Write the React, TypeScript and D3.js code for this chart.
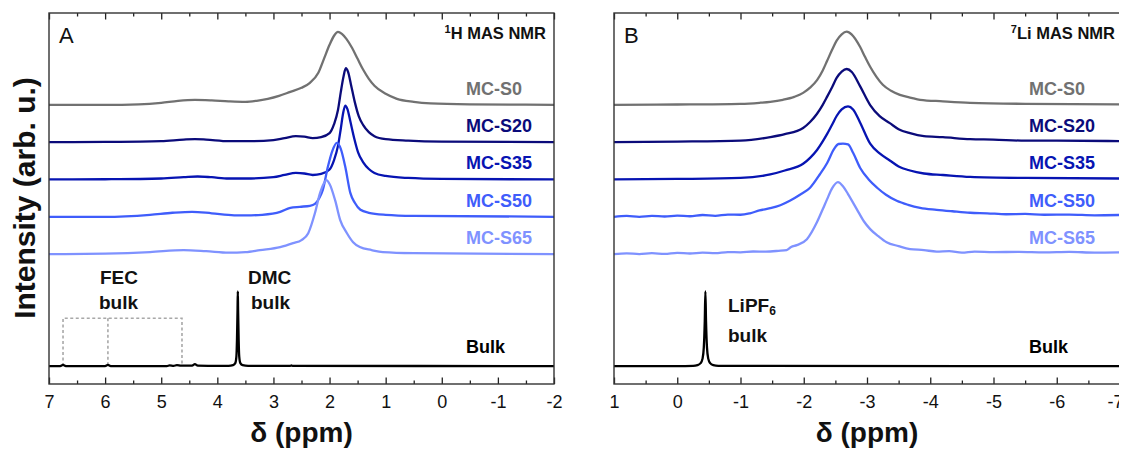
import React, { useEffect, useRef } from "react";
import * as d3 from "d3";

type Pt = [number, number];

// 1H MAS NMR spectra: [ppm, intensity]
const H_S0: Pt[] = [[7,0],[6,0],[5.4,0.7],[5.0,2.7],[4.7,5.4],[4.4,6.7],[4.1,6],[3.8,4.7],[3.5,4],[3.3,5.4],[3.1,8],[2.9,12],[2.7,17.4],[2.5,22.8],[2.35,29.5],[2.2,43],[2.1,61.6],[2.0,80.4],[1.92,92.5],[1.85,97.8],[1.78,95],[1.7,88.4],[1.6,76.4],[1.5,61.6],[1.4,46.9],[1.3,34.8],[1.2,25.5],[1.0,14.7],[0.8,8],[0.5,4],[0.2,2],[-0.5,0.7],[-2,0]];
const H_S20: Pt[] = [[7,0],[6,0.3],[5,1.3],[4.6,3.4],[4.4,4],[4.2,3.4],[3.8,1.3],[3.4,1.3],[3.0,2.7],[2.8,5.4],[2.6,8],[2.45,7.4],[2.3,5.4],[2.15,6.7],[2.0,12],[1.92,24],[1.85,43],[1.8,67],[1.75,88.4],[1.71,99],[1.67,94],[1.62,77.7],[1.55,53.6],[1.48,34.8],[1.4,22.8],[1.3,13.4],[1.2,8],[1.0,4],[0.6,2],[0,0.7],[-2,0]];
const H_S35: Pt[] = [[7,0],[6,0.3],[5,1.3],[4.6,3],[4.35,4],[4.1,3],[3.8,1.3],[3.4,1.3],[3.0,3],[2.8,6],[2.6,8.7],[2.45,8],[2.3,6],[2.15,7.4],[2.0,13.4],[1.92,26],[1.85,45],[1.8,68],[1.76,88],[1.72,99],[1.68,94],[1.63,78],[1.56,55],[1.49,36],[1.4,23],[1.3,14],[1.2,8.7],[1.0,4.7],[0.6,2],[0,0.7],[-2,0]];
const H_S50: Pt[] = [[7,0],[6,0],[5.2,2.7],[4.8,5.4],[4.45,6.7],[4.1,4.7],[3.7,2],[3.4,2],[3.2,2.7],[2.88,6.7],[2.7,12],[2.53,13.4],[2.35,14.7],[2.26,17.4],[2.18,25.5],[2.12,36],[2.03,67],[1.95,88.4],[1.87,99],[1.8,91],[1.72,67],[1.63,32],[1.55,18.8],[1.45,9.4],[1.3,5.4],[1.0,2.7],[0.5,1.3],[-2,0]];
const H_S65: Pt[] = [[7,0],[6,0.7],[5.2,2.7],[4.6,5.4],[4.2,4],[3.8,2],[3.5,2.7],[3.24,5.4],[2.88,9.4],[2.65,14.7],[2.5,18.8],[2.38,28],[2.26,55],[2.17,81.7],[2.1,95],[2.06,99],[2.0,94],[1.9,72],[1.81,45.6],[1.69,28],[1.58,16],[1.46,9.4],[1.25,5.4],[1.05,2.7],[0.5,1.3],[-2,0]];
const H_BULK: Pt[] = [[7,0],[6.8,0],[6.75,1.5],[6.7,0],[6.0,0],[5.95,1.5],[5.9,0],[4.9,0],[4.85,1],[4.78,0.3],[4.72,1.3],[4.65,0.5],[4.45,0.5],[4.4,2.5],[4.35,0.5],[3.8,0.3],[3.72,1.3],[3.68,4],[3.66,13],[3.65,35],[3.64,75],[3.635,100],[3.63,75],[3.62,35],[3.61,13],[3.59,4],[3.55,1.3],[3.45,0.3],[2.7,0.3],[2.68,1],[2.66,0.3],[-2,0]];

// 7Li MAS NMR spectra: [ppm, intensity]
const LI_S0: Pt[] = [[1,0],[0,0.4],[-1,1.3],[-1.3,2.7],[-1.47,4],[-1.67,6.7],[-1.85,10.7],[-1.99,16],[-2.1,23],[-2.21,33],[-2.3,46],[-2.37,59],[-2.45,74],[-2.52,86],[-2.6,94.5],[-2.68,98],[-2.76,94],[-2.89,77.7],[-2.97,64],[-3.05,51],[-3.15,37.5],[-3.25,26.8],[-3.38,18.8],[-3.52,13.4],[-3.7,9.4],[-3.84,6.7],[-4.2,4.7],[-4.63,2.7],[-5.5,1.3],[-7,0.7]];
const LI_S20: Pt[] = [[1,0],[0,0.7],[-1,2],[-1.47,6.7],[-1.7,10.7],[-1.99,19],[-2.1,27],[-2.21,38],[-2.3,50],[-2.37,61],[-2.45,74],[-2.52,86],[-2.6,94.5],[-2.68,98],[-2.76,94],[-2.89,75],[-3.05,49.6],[-3.2,34.8],[-3.36,25.5],[-3.5,17.4],[-3.68,12],[-3.9,8],[-4.2,6.7],[-4.63,4],[-5,3.4],[-5.5,2],[-6,2],[-7,1.3]];
const LI_S35: Pt[] = [[1,0],[0,0.7],[-1,2],[-1.47,6.7],[-1.7,12],[-1.99,21],[-2.1,29],[-2.21,39.5],[-2.3,51],[-2.37,61],[-2.45,73.7],[-2.52,85],[-2.6,93.8],[-2.7,97.8],[-2.78,93.8],[-2.89,76.4],[-3.05,48],[-3.2,34.8],[-3.36,25.5],[-3.5,17.4],[-3.68,12],[-3.9,8],[-4.2,6],[-4.63,3.4],[-5.5,2],[-7,1.3]];
const LI_S50: Pt[] = [[1,0],[0.8,1.1],[0.6,0],[0.4,1.3],[0.2,0.4],[0,1.6],[-0.2,0.7],[-0.4,2.4],[-0.6,1.3],[-0.8,3],[-1,2.7],[-1.15,4.7],[-1.3,8.5],[-1.47,11.5],[-1.63,15.5],[-1.78,21.4],[-1.94,29.5],[-2.1,38.9],[-2.25,56.3],[-2.37,72],[-2.48,91],[-2.55,97.5],[-2.62,98],[-2.7,97],[-2.78,85.8],[-2.89,65.7],[-3.03,49.6],[-3.16,38.9],[-3.3,29.5],[-3.47,21.4],[-3.65,16],[-3.84,12],[-4.1,9.4],[-4.35,7.4],[-4.63,5.4],[-4.9,4.7],[-5.2,3.4],[-5.5,3.8],[-5.8,2.7],[-6.2,3],[-6.6,2],[-7,2.4]];
const LI_S65: Pt[] = [[1,0],[0.8,1.1],[0.6,0],[0.4,1.2],[0.2,0.3],[0,1.7],[-0.2,0.8],[-0.4,2],[-0.6,1.3],[-0.8,2.7],[-1,2.4],[-1.2,3.5],[-1.4,3.4],[-1.6,4.4],[-1.73,5.4],[-1.8,9.4],[-1.89,12],[-2.05,20],[-2.21,43],[-2.3,60],[-2.37,73.7],[-2.45,88.4],[-2.54,96.5],[-2.62,91],[-2.7,80.4],[-2.84,60],[-2.95,44],[-3.05,33.5],[-3.18,24],[-3.31,16],[-3.5,10.7],[-3.68,6.7],[-3.9,5.4],[-4.1,3.4],[-4.3,4],[-4.5,2],[-4.7,3.4],[-5,2.7],[-5.4,3],[-5.8,2.4],[-6.2,3],[-6.6,2],[-7,2.4]];
const LI_BULK: Pt[] = [[1,0],[0,0],[-0.25,0.3],[-0.32,1.3],[-0.37,4],[-0.4,10],[-0.42,25],[-0.435,60],[-0.445,100],[-0.455,60],[-0.47,25],[-0.49,10],[-0.52,4],[-0.57,1.3],[-0.65,0.3],[-7,0]];

const SAMPLES = ["MC-S0", "MC-S20", "MC-S35", "MC-S50", "MC-S65", "Bulk"];
const OFFSETS = [350, 300, 250, 200, 150, 0];
const COLORS = ["#717171", "#0b0b7a", "#0714b2", "#3f5dfb", "#7f92ff", "#000000"];

const FEC_BOX_PPM = [6.75, 5.95, 4.63];
const FEC_BOX_TOP = 64;

const FONT = "Arial, 'Liberation Sans', sans-serif";

const App = () => {
  const svgRef = useRef<SVGSVGElement>(null);

  useEffect(() => {
    const svg = d3.select(svgRef.current);
    svg.selectAll("*").remove();

    const top = 13, bottom = 384;
    const y = d3.scaleLinear().domain([-24, 473]).range([bottom, top]);

    const panels = [
      { left: 49, right: 554, domain: [7, -2], spectra: [H_S0, H_S20, H_S35, H_S50, H_S65, H_BULK],
        letter: "A", nuc: "1", el: "H", labelPpm: -0.43, lastDx: 0 },
      { left: 614, right: 1120, domain: [1, -7], spectra: [LI_S0, LI_S20, LI_S35, LI_S50, LI_S65, LI_BULK],
        letter: "B", nuc: "7", el: "Li", labelPpm: -5.56, lastDx: -5 }
    ];

    panels.forEach((p, pi) => {
      const x = d3.scaleLinear().domain(p.domain).range([p.left, p.right]);
      const g = svg.append("g");

      const major = d3.range(p.domain[0], p.domain[1] - 0.01, -1);
      const minor = d3.range(p.domain[0] - 0.5, p.domain[1], -1);

      // ticks (inside), bottom + top
      g.append("g")
        .attr("transform", `translate(0,${bottom})`)
        .call(d3.axisBottom(x).tickValues(minor).tickSize(-3.5).tickFormat(() => ""))
        .call(a => a.select(".domain").remove());
      g.append("g")
        .attr("transform", `translate(0,${bottom})`)
        .call(d3.axisBottom(x).tickValues(major).tickSize(-6.5).tickPadding(11).tickFormat(d => String(d)))
        .call(a => a.select(".domain").remove())
        .call(a => a.selectAll(".tick:last-of-type text").attr("dx", p.lastDx));
      g.append("g")
        .attr("transform", `translate(0,${top})`)
        .call(d3.axisTop(x).tickValues(minor).tickSize(-3.5).tickFormat(() => ""))
        .call(a => a.select(".domain").remove());
      g.append("g")
        .attr("transform", `translate(0,${top})`)
        .call(d3.axisTop(x).tickValues(major).tickSize(-6.5).tickFormat(() => ""))
        .call(a => a.select(".domain").remove());

      g.selectAll(".tick line").attr("stroke", "#222").attr("stroke-width", 1.3);
      g.selectAll(".tick text")
        .attr("font-family", FONT)
        .attr("font-size", 18)
        .attr("fill", "#111");

      // FEC dashed box
      if (pi === 0) {
        const [a, b, c] = FEC_BOX_PPM;
        g.append("path")
          .attr("d", `M${x(a)},${y(0)}V${y(FEC_BOX_TOP)}H${x(c)}V${y(0)}M${x(b)},${y(FEC_BOX_TOP)}V${y(0)}`)
          .attr("fill", "none")
          .attr("stroke", "#a8a8a8")
          .attr("stroke-width", 1.6)
          .attr("stroke-dasharray", "3,2.5");
      }

      // spectra
      p.spectra.forEach((s, i) => {
        const line = d3.line<Pt>()
          .x(d => x(d[0]))
          .y(d => y(d[1] + OFFSETS[i]))
          .curve(d3.curveMonotoneX);
        g.append("path")
          .attr("d", line(s))
          .attr("fill", "none")
          .attr("stroke", COLORS[i])
          .attr("stroke-width", 2.3)
          .attr("stroke-linejoin", "round");
      });

      // frame
      g.append("rect")
        .attr("x", p.left)
        .attr("y", top)
        .attr("width", p.right - p.left)
        .attr("height", bottom - top)
        .attr("fill", "none")
        .attr("stroke", "#333")
        .attr("stroke-width", 1.4);

      // sample labels
      SAMPLES.forEach((name, i) => {
        g.append("text")
          .attr("x", x(p.labelPpm))
          .attr("y", y(OFFSETS[i]) - (i === 5 ? 19 : 16))
          .attr("dominant-baseline", "central")
          .attr("font-family", FONT)
          .attr("font-weight", "bold")
          .attr("font-size", 18)
          .attr("fill", COLORS[i])
          .text(name);
      });

      // panel letter
      g.append("text")
        .attr("x", p.left + 10)
        .attr("y", 43)
        .attr("font-family", FONT)
        .attr("font-size", 22)
        .attr("fill", "#111")
        .text(p.letter);

      // nucleus title
      const t = g.append("text")
        .attr("x", p.right - (pi === 0 ? 8 : 5))
        .attr("y", 39)
        .attr("text-anchor", "end")
        .attr("font-family", FONT)
        .attr("font-weight", "bold")
        .attr("font-size", 16.5)
        .attr("fill", "#111");
      t.append("tspan").attr("font-size", 11).attr("dy", -6).text(p.nuc);
      t.append("tspan").attr("dy", 6).text(`${p.el} MAS NMR`);

      // x axis title
      g.append("text")
        .attr("x", (p.left + p.right) / 2)
        .attr("y", 442)
        .attr("text-anchor", "middle")
        .attr("font-family", FONT)
        .attr("font-weight", "bold")
        .attr("font-size", 28)
        .attr("fill", "#111")
        .text("δ (ppm)");

      // peak annotations
      const bold = (sel: any) => sel
        .attr("font-family", FONT)
        .attr("font-weight", "bold")
        .attr("font-size", 19)
        .attr("fill", "#111")
        .attr("dominant-baseline", "central");

      if (pi === 0) {
        g.append("text").attr("x", 100).attr("y", 277).call(bold).text("FEC");
        g.append("text").attr("x", 99).attr("y", 302).call(bold).text("bulk");
        g.append("text").attr("x", 248).attr("y", 277).call(bold).text("DMC");
        g.append("text").attr("x", 251).attr("y", 302).call(bold).text("bulk");
      } else {
        const lt = g.append("text").attr("x", 728).attr("y", 305).call(bold);
        lt.append("tspan").text("LiPF");
        lt.append("tspan").attr("font-size", 12).attr("dy", 6).text("6");
        g.append("text").attr("x", 728).attr("y", 335).call(bold).text("bulk");
      }
    });

    // y axis title
    svg.append("text")
      .attr("transform", "translate(35,198) rotate(-90)")
      .attr("text-anchor", "middle")
      .attr("font-family", FONT)
      .attr("font-weight", "bold")
      .attr("font-size", 30)
      .attr("fill", "#111")
      .text("Intensity (arb. u.)");
  }, []);

  return (
    <div style={{ position: "relative", width: 1127, height: 449 }}>
      <svg
        ref={svgRef}
        width={1127}
        height={449}
        style={{ position: "absolute", left: -8, top: -8, background: "#fff" }}
      />
    </div>
  );
};

export default App;
